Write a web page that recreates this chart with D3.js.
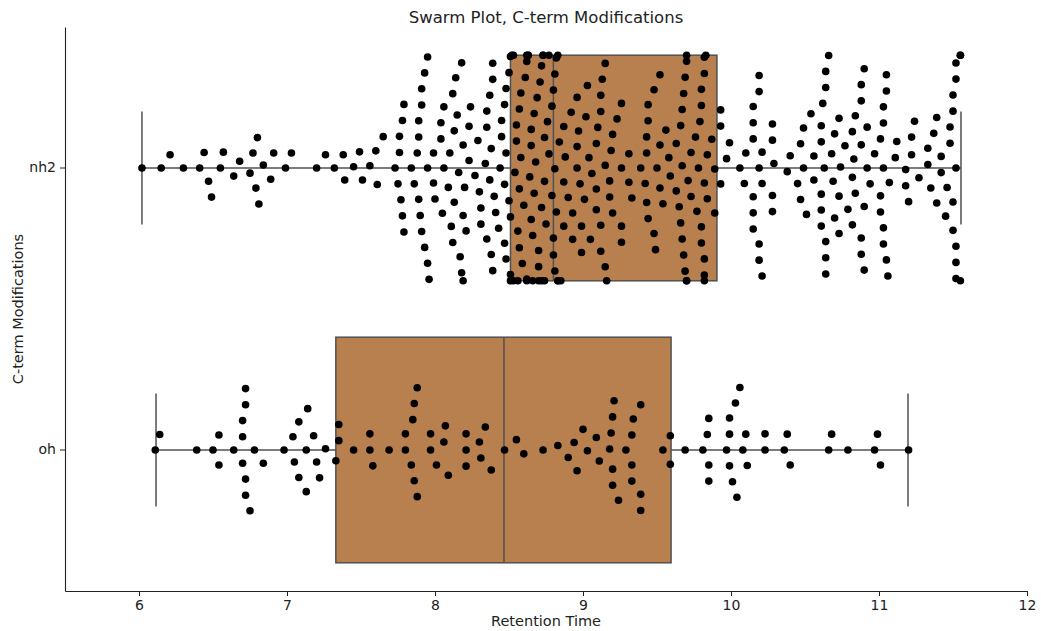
<html>
 <head>
 <title>Swarm Plot | D3</title>
 <script src="https://d3js.org/d3.v7.min.js" charset="utf-8"></script>
<style>
body {
 margin: 0;
 background: white;
 font-family: "DejaVu Sans", sans-serif;
}
</style>
 </head>
 <body>
 <script>
   // categories (top to bottom)
   var categories = ["nh2", "oh"];

   // retention times, nh2 group
   var nh2Times = [
    6.02, 6.15, 6.21, 6.30, 6.41, 6.44, 6.47, 6.49, 6.55, 6.57, 6.64, 6.68, 6.75, 6.77, 6.79, 6.80, 6.81, 6.84,
    6.89, 6.91, 6.99, 7.03, 7.20, 7.26, 7.32, 7.38, 7.39, 7.45, 7.49, 7.51, 7.56, 7.60, 7.61, 7.65,
    7.73, 7.75, 7.76, 7.76, 7.77, 7.78, 7.78, 7.79, 7.79, 7.84, 7.86, 7.88, 7.89, 7.89, 7.89, 7.90, 7.91, 7.91,
    7.91, 7.93, 7.93, 7.95, 7.95, 7.95, 7.96, 7.99, 7.99, 8.00, 8.04, 8.04, 8.05, 8.06, 8.06, 8.09, 8.10, 8.11,
    8.12, 8.12, 8.13, 8.13, 8.14, 8.15, 8.16, 8.17, 8.18, 8.18, 8.19, 8.19, 8.19, 8.20, 8.21, 8.23, 8.23, 8.24,
    8.27, 8.29, 8.30, 8.31, 8.31, 8.34, 8.35, 8.35, 8.35, 8.37, 8.37, 8.38, 8.38, 8.39, 8.39, 8.39, 8.40, 8.41,
    8.43, 8.44, 8.45, 8.45, 8.47, 8.47, 8.48, 8.48, 8.48, 8.50, 8.51, 8.51, 8.51,
    8.53, 8.55, 8.56, 8.56, 8.57, 8.58, 8.58, 8.61, 8.62, 8.62, 8.62, 8.63, 8.63, 8.65, 8.65, 8.66, 8.66, 8.67,
    8.69, 8.70, 8.70, 8.72, 8.72, 8.72, 8.73, 8.74, 8.74, 8.75, 8.77, 8.79, 8.80, 8.80, 8.81, 8.81, 8.81, 8.82,
    8.83, 8.83,
    // packed along the box edges
    8.47, 8.50, 8.51, 8.52, 8.53, 8.54, 8.55, 8.57, 8.57, 8.59, 8.60, 8.62, 8.64, 8.65, 8.67, 8.68, 8.70, 8.71,
    8.73, 8.74, 8.76, 8.77, 8.79, 8.80, 8.82, 8.83, 8.84, 8.85,
    8.87, 8.87, 8.87, 8.88, 8.90, 8.92, 8.93, 8.93, 8.96, 8.96, 8.96, 8.97, 8.98, 8.99, 8.99, 9.01, 9.02, 9.03,
    9.04, 9.05, 9.06, 9.09, 9.09, 9.09, 9.10, 9.12, 9.12, 9.12, 9.12, 9.13, 9.15, 9.15, 9.15, 9.16, 9.18, 9.18,
    9.19, 9.20, 9.20, 9.23, 9.26, 9.26, 9.26, 9.26, 9.31, 9.31, 9.33, 9.39,
    9.42, 9.43, 9.43, 9.43, 9.44, 9.44, 9.44, 9.48, 9.48, 9.49, 9.50, 9.52, 9.52, 9.52, 9.54, 9.56, 9.58, 9.59,
    9.63, 9.63, 9.65, 9.66, 9.66, 9.67, 9.67, 9.67, 9.68, 9.68, 9.69, 9.69, 9.70, 9.70, 9.70, 9.70, 9.71, 9.73,
    9.73, 9.76, 9.77, 9.78, 9.79, 9.80, 9.80, 9.80, 9.80, 9.82, 9.82, 9.82, 9.82, 9.82, 9.82, 9.83, 9.84, 9.84,
    9.87, 9.89, 9.89, 9.93, 9.93, 9.93, 9.97, 9.99, 10.06, 10.09, 10.10,
    10.15, 10.15, 10.15, 10.15, 10.15, 10.15, 10.19, 10.19, 10.19, 10.19, 10.19, 10.21, 10.21, 10.21,
    10.28, 10.28, 10.28, 10.28, 10.29, 10.38, 10.40, 10.45, 10.47, 10.47, 10.49, 10.49, 10.51, 10.54, 10.56, 10.56,
    10.61, 10.61, 10.61, 10.61, 10.61, 10.62, 10.63, 10.64, 10.64, 10.64, 10.64, 10.64, 10.66, 10.68, 10.69,
    10.70, 10.70, 10.73, 10.73, 10.73, 10.74, 10.77, 10.79, 10.82, 10.82, 10.82, 10.83, 10.84, 10.84,
    10.88, 10.88, 10.88, 10.88, 10.88, 10.90, 10.90, 10.90, 10.92, 10.92, 10.94, 10.97,
    11.01, 11.01, 11.01, 11.03, 11.03, 11.03, 11.03, 11.03, 11.05, 11.05, 11.05, 11.06, 11.07, 11.11, 11.12,
    11.18, 11.18, 11.20, 11.22, 11.22, 11.24, 11.27, 11.33, 11.33, 11.35, 11.37, 11.39, 11.39, 11.42, 11.42,
    11.45, 11.46, 11.48, 11.48, 11.50, 11.50, 11.50, 11.50, 11.52, 11.52, 11.52, 11.52, 11.52, 11.52,
    11.55, 11.55, 11.55
   ];

   // retention times, oh group
   var ohTimes = [
    6.11, 6.14, 6.39, 6.50, 6.54, 6.54, 6.64, 6.70, 6.70, 6.70, 6.72, 6.72, 6.72, 6.72, 6.75, 6.78, 6.84,
    6.98, 7.04, 7.05, 7.08, 7.08, 7.13, 7.13, 7.14, 7.18, 7.20, 7.22, 7.26, 7.33, 7.35, 7.35, 7.45,
    7.56, 7.56, 7.58, 7.69, 7.80, 7.80, 7.84, 7.85, 7.86, 7.86, 7.88, 7.88, 7.97, 7.97, 8.01, 8.06, 8.07, 8.09,
    8.21, 8.21, 8.21, 8.30, 8.31, 8.34, 8.38, 8.47, 8.55, 8.60, 8.73, 8.83, 8.90, 8.94, 8.96, 9.00, 9.03,
    9.09, 9.11, 9.18, 9.19, 9.20, 9.20, 9.20, 9.21, 9.24, 9.29, 9.33, 9.33, 9.33, 9.34, 9.39, 9.39, 9.39,
    9.54, 9.59, 9.59, 9.69, 9.81, 9.84, 9.85, 9.85, 9.85, 9.97, 9.99, 9.99, 9.99, 10.01, 10.03, 10.04,
    10.06, 10.08, 10.10, 10.11, 10.23, 10.23, 10.36, 10.38, 10.40, 10.66, 10.68, 10.79, 10.97, 10.99,
    11.01, 11.20
   ];

   // box plot summary per category: whisker low, q1, median, q3, whisker high
   var whiskerLow = [6.02, 6.115];
   var q1 = [8.51, 7.33];
   var median = [8.80, 8.466];
   var q3 = [9.905, 9.595];
   var whiskerHigh = [11.554, 11.196];

   var xTicks = [6, 7, 8, 9, 10, 11, 12];

   var width = 1041;
   var height = 631;
   var margin = {left: 65, right: 14, top: 27, bottom: 40};

   var boxColor = "#b9804f";
   var lineColor = "#505050";

   var x = d3.scaleLinear().domain([5.5, 12]).range([margin.left, width - margin.right]);
   var y = d3.scaleBand().domain(categories).range([margin.top, height - margin.bottom]);
   var band = y.bandwidth();
   var boxW = band * 0.8;

   var svg = d3.select("body")
    .append("svg")
    .attr("width", width)
    .attr("height", height);

   // boxes
   var boxes = svg.append("g");
   categories.forEach(function(c, i) {
    var cy = y(c) + band / 2;
    // whiskers
    boxes.append("line")
     .attr("x1", x(whiskerLow[i])).attr("x2", x(q1[i]))
     .attr("y1", cy).attr("y2", cy)
     .attr("stroke", lineColor).attr("stroke-width", 1.5);
    boxes.append("line")
     .attr("x1", x(q3[i])).attr("x2", x(whiskerHigh[i]))
     .attr("y1", cy).attr("y2", cy)
     .attr("stroke", lineColor).attr("stroke-width", 1.5);
    // caps
    [whiskerLow[i], whiskerHigh[i]].forEach(function(w) {
     boxes.append("line")
      .attr("x1", x(w)).attr("x2", x(w))
      .attr("y1", cy - boxW / 4).attr("y2", cy + boxW / 4)
      .attr("stroke", lineColor).attr("stroke-width", 1.5);
    });
    boxes.append("rect")
     .attr("x", x(q1[i]))
     .attr("y", cy - boxW / 2)
     .attr("width", x(q3[i]) - x(q1[i]))
     .attr("height", boxW)
     .attr("fill", boxColor)
     .attr("stroke", lineColor)
     .attr("stroke-width", 1.5);
    boxes.append("line")
     .attr("x1", x(median[i])).attr("x2", x(median[i]))
     .attr("y1", cy - boxW / 2).attr("y2", cy + boxW / 2)
     .attr("stroke", lineColor).attr("stroke-width", 1.5);
   });

   // beeswarm, same idea as seaborn: sort by value, put each point at the
   // free spot closest to the centre line, clamp overflow to the box edges
   var swarmR = 7.7;
   function swarm(values) {
    var pts = values.map(function(v) { return {v: v, px: x(v), off: 0}; })
     .sort(function(a, b) { return a.px - b.px; });
    var placed = [];
    pts.forEach(function(p, i) {
     if (i == 0) { placed.push(p); return; }
     var nb = [];
     for (var j = placed.length - 1; j >= 0; j--) {
      if (p.px - placed[j].px < 2 * swarmR) nb.push(placed[j]);
      else break;
     }
     nb.reverse();
     var cands = [0];
     var leftFirst = true;
     nb.forEach(function(q) {
      var d = p.px - q.px;
      var dx = Math.sqrt(Math.max(4 * swarmR * swarmR - d * d, 0)) * 1.05;
      if (leftFirst) cands.push(q.off - dx, q.off + dx);
      else cands.push(q.off + dx, q.off - dx);
      leftFirst = !leftFirst;
     });
     cands.sort(function(a, b) { return Math.abs(a) - Math.abs(b); });
     var chosen = cands[0];
     for (var k = 0; k < cands.length; k++) {
      var c = cands[k];
      var ok = nb.every(function(q) {
       return (q.off - c) * (q.off - c) + (q.px - p.px) * (q.px - p.px) >= 4 * swarmR * swarmR;
      });
      if (ok) { chosen = c; break; }
     }
     p.off = chosen;
     placed.push(p);
    });
    var half = boxW / 2;
    placed.forEach(function(p) { p.off = Math.max(-half, Math.min(half, p.off)); });
    return placed;
   }

   var groups = [nh2Times, ohTimes];
   var dots = svg.append("g");
   categories.forEach(function(c, i) {
    var cy = y(c) + band / 2;
    dots.selectAll(".dot" + i)
     .data(swarm(groups[i]))
     .enter()
     .append("circle")
     .attr("class", "dot" + i)
     .attr("cx", function(d) { return d.px; })
     .attr("cy", function(d) { return cy + d.off; })
     .attr("r", 3.8)
     .attr("fill", "black");
   });

   // axes, no end ticks (like a despined matplotlib axes)
   var xAxis = svg.append("g")
    .attr("transform", "translate(0," + (height - margin.bottom) + ")")
    .call(d3.axisBottom(x).tickValues(xTicks).tickFormat(d3.format("d"))
     .tickSizeInner(5).tickSizeOuter(0).tickPadding(4));
   var yAxis = svg.append("g")
    .attr("transform", "translate(" + margin.left + ",0)")
    .call(d3.axisLeft(y).tickSizeInner(5).tickSizeOuter(0).tickPadding(4));
   [xAxis, yAxis].forEach(function(a) {
    a.selectAll("text").attr("font-family", "DejaVu Sans").attr("font-size", 14).attr("fill", "#222");
    a.select(".domain").attr("stroke", "#222").attr("stroke-width", 1.1);
    a.selectAll(".tick line").attr("stroke", "#222");
   });

   svg.append("text")
    .attr("x", (margin.left + width - margin.right) / 2)
    .attr("y", 23)
    .attr("text-anchor", "middle")
    .attr("font-size", 16.5)
    .attr("fill", "#222")
    .text("Swarm Plot, C-term Modifications");

   svg.append("text")
    .attr("x", (margin.left + width - margin.right) / 2)
    .attr("y", 626)
    .attr("text-anchor", "middle")
    .attr("font-size", 14.5)
    .attr("fill", "#222")
    .text("Retention Time");

   svg.append("text")
    .attr("transform", "translate(23," + ((margin.top + height - margin.bottom) / 2) + ") rotate(-90)")
    .attr("text-anchor", "middle")
    .attr("font-size", 14.5)
    .attr("fill", "#222")
    .text("C-term Modifications");
 </script>
 </body>
</html>
